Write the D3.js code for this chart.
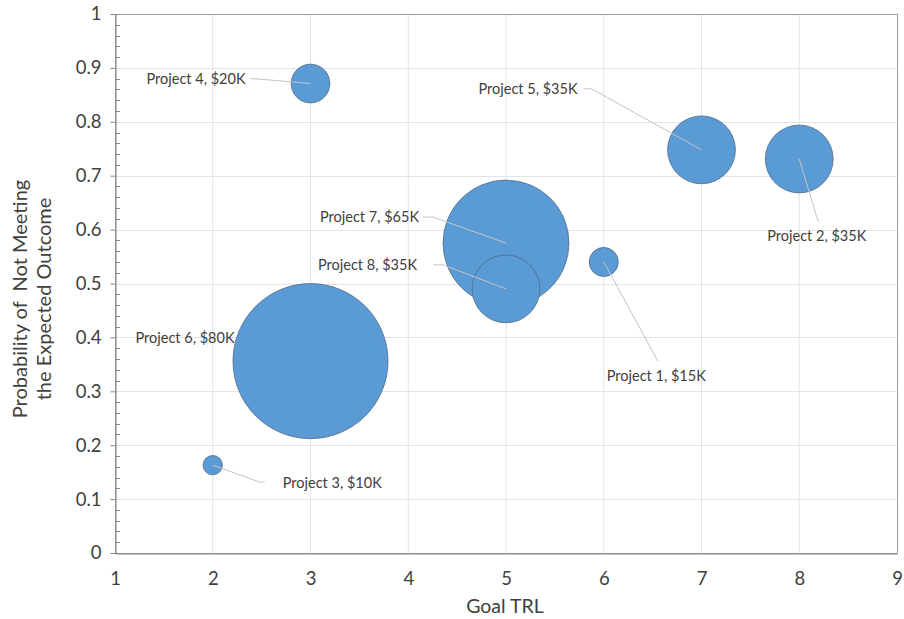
<!DOCTYPE html>
<html>
<head>
<meta charset="utf-8">
<script src="https://cdn.jsdelivr.net/npm/d3@7"></script>
<style>
  body { margin: 0; background: #fff; }
  svg text { font-family: Lato, "Open Sans", sans-serif; fill: #404040; }
</style>
</head>
<body>
<div id="chart"></div>
<script>
// data
var projects = ["Project 1", "Project 2", "Project 3", "Project 4", "Project 5", "Project 6", "Project 7", "Project 8"];
var goalTRL  = [6, 8, 2, 3, 7, 3, 5, 5];
var probFail = [0.54, 0.731, 0.163, 0.871, 0.748, 0.356, 0.575, 0.49];
var costK    = [15, 35, 10, 20, 35, 80, 65, 35];

var xTicks = [1, 2, 3, 4, 5, 6, 7, 8, 9];
var yTicks = [0, 0.1, 0.2, 0.3, 0.4, 0.5, 0.6, 0.7, 0.8, 0.9, 1];

// label placement, pixel offsets from bubble centre (text point, leader elbow, leader end)
var labelLayout = [
    {dx: 3,   dy: 114, anchor: "start", lead: [[54, 99]]},
    {dx: -32, dy: 77,  anchor: "start", lead: [[19, 63]]},
    {dx: 70,  dy: 18,  anchor: "start", lead: [[47, 17], [52, 17]]},
    {dx: -65, dy: -5,  anchor: "end",   lead: [[-46, -4], [-60, -5]]},
    {dx: -124, dy: -61, anchor: "end",  lead: [[-110, -61], [-118, -61]]},
    {dx: -76, dy: -23, anchor: "end",   lead: []},
    {dx: -87, dy: -26, anchor: "end",   lead: [[-73, -26], [-83, -26]]},
    {dx: -89, dy: -24, anchor: "end",   lead: [[-63, -24], [-73, -24]]}
];

var width = 904, height = 619;
var margin = {left: 115, right: 7, top: 14, bottom: 66};

var svg = d3.select("#chart").append("svg")
    .attr("width", width)
    .attr("height", height);

var x = d3.scaleLinear().domain([1, 9]).range([margin.left, width - margin.right]);
var y = d3.scaleLinear().domain([0, 1]).range([height - margin.bottom, margin.top]);
// bubble width proportional to cost
var r = d3.scaleLinear().domain([0, 80]).range([0, 77.5]);

var nodes = projects.map(function (p, i) {
    return {name: p, tx: goalTRL[i], py: probFail[i], cost: costK[i], lay: labelLayout[i]};
});

// gridlines
svg.append("g")
    .selectAll("line.vg")
    .data(xTicks.slice(1, -1))
    .enter().append("line")
    .attr("x1", function (d) { return x(d); })
    .attr("x2", function (d) { return x(d); })
    .attr("y1", y(0)).attr("y2", y(1))
    .attr("stroke", "#e3e3e3").attr("stroke-width", 1);

svg.append("g")
    .selectAll("line.hg")
    .data(yTicks.slice(1, -1))
    .enter().append("line")
    .attr("y1", function (d) { return Math.round(y(d)) + 0.5; })
    .attr("y2", function (d) { return Math.round(y(d)) + 0.5; })
    .attr("x1", x(1)).attr("x2", x(9))
    .attr("stroke", "#e3e3e3").attr("stroke-width", 1);

// plot border
svg.append("rect")
    .attr("x", x(1) + 0.5).attr("y", y(1) + 0.5)
    .attr("width", x(9) - x(1)).attr("height", y(0) - y(1))
    .attr("fill", "none").attr("stroke", "#9a9a9a").attr("stroke-width", 1);

// y axis with minor ticks
var yAxis = d3.axisLeft(y).tickValues(yTicks).tickSize(5).tickPadding(9)
    .tickFormat(function (d) { return d3.format("")(d); });
var yg = svg.append("g")
    .attr("transform", "translate(" + (x(1) + 0.5) + ",0)")
    .call(yAxis);
yg.select(".domain").attr("stroke", "#868686");
yg.selectAll(".tick line").attr("stroke", "#868686");
yg.selectAll(".tick text").style("font-size", "18.5px").attr("fill", "#404040");

var minor = d3.range(0, 1.0001, 0.02).filter(function (v) { return Math.abs(v * 10 - Math.round(v * 10)) > 0.01; });
svg.append("g").selectAll("line")
    .data(minor)
    .enter().append("line")
    .attr("x1", x(1) + 0.5).attr("x2", x(1) + 5)
    .attr("y1", function (d) { return Math.round(y(d)) + 0.5; })
    .attr("y2", function (d) { return Math.round(y(d)) + 0.5; })
    .attr("stroke", "#868686");

// x axis
var xAxis = d3.axisBottom(x).tickValues(xTicks).tickSize(0).tickPadding(18);
var xg = svg.append("g")
    .attr("transform", "translate(0," + (y(0) + 0.5) + ")")
    .call(xAxis);
xg.select(".domain").attr("stroke", "#868686");
xg.selectAll(".tick text").style("font-size", "18.5px").attr("fill", "#404040");

// axis titles
svg.append("text")
    .attr("x", (x(1) + x(9)) / 2 - 1).attr("y", 613)
    .attr("text-anchor", "middle")
    .style("font-size", "19.5px")
    .text("Goal TRL");

var yt = svg.append("text")
    .attr("transform", "translate(27,299) rotate(-90)")
    .attr("text-anchor", "middle")
    .style("font-size", "20px");
yt.append("tspan").attr("x", 0).attr("dy", 0).text("Probability of\u00a0\u00a0Not Meeting");
yt.append("tspan").attr("x", 0).attr("dy", 24).text("the Expected Outcome");

// bubbles, largest first so small ones sit on top
var sorted = nodes.slice().sort(function (a, b) { return b.cost - a.cost; });
svg.append("g").selectAll("circle")
    .data(sorted)
    .enter().append("circle")
    .attr("cx", function (d) { return x(d.tx); })
    .attr("cy", function (d) { return y(d.py); })
    .attr("r", function (d) { return r(d.cost); })
    .attr("fill", "#5b9bd5")
    .attr("stroke", "#4f6a85")
    .attr("stroke-width", 0.8);

// leader lines
var line = d3.line();
svg.append("g").selectAll("path")
    .data(nodes.filter(function (d) { return d.lay.lead.length; }))
    .enter().append("path")
    .attr("d", function (d) {
        var cx = x(d.tx), cy = y(d.py);
        var pts = [[cx, cy]].concat(d.lay.lead.map(function (p) { return [cx + p[0], cy + p[1]]; }));
        return line(pts);
    })
    .attr("fill", "none")
    .attr("stroke", "#c4c4c4")
    .attr("stroke-width", 1);

// data labels
svg.append("g").selectAll("text")
    .data(nodes)
    .enter().append("text")
    .attr("x", function (d) { return x(d.tx) + d.lay.dx; })
    .attr("y", function (d) { return y(d.py) + d.lay.dy; })
    .attr("dy", "0.35em")
    .attr("text-anchor", function (d) { return d.lay.anchor; })
    .style("font-size", "14.5px")
    .text(function (d) { return d.name + ", $" + d.cost + "K"; });
</script>
</body>
</html>
